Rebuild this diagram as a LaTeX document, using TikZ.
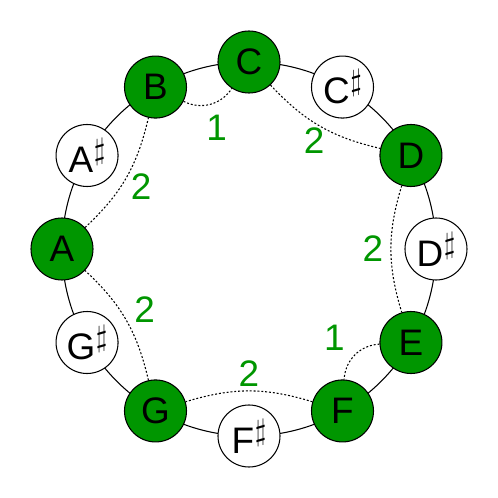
\documentclass[tikz,border=0pt]{standalone}
\usepackage{fontspec}
\setmainfont{Liberation Sans}
\usepackage{tikz}
\definecolor{keygreen}{RGB}{0,150,0}
\newcommand{\shp}{\kern0.3pt\raisebox{7.4pt}{\fontsize{16}{16}\selectfont$\sharp$}}

\begin{document}
\begin{tikzpicture}[
every node/.style={circle, draw=black, minimum size=1.24cm, inner sep=0, font=\fontsize{21}{23}\selectfont},
every path/.style={line width=0.6pt},
inkey/.style={fill=keygreen},
offkey/.style={fill=white},
interval/.style={dash pattern=on 1.1pt off 1.1pt},
steplabel/.style={draw=none, fill=none, rectangle, minimum size=0, text=keygreen}
]
\useasboundingbox (-4.98,-4.98) rectangle (4.98,4.98);
\draw (0,0) circle (3.74);
\node[inkey] (c) at (90:3.74) {C};
\node[offkey] (cs) at (60:3.74) {C\shp};
\node[inkey] (d) at (30:3.74) {D};
\node[offkey] (ds) at (0:3.74) {D\shp};
\node[inkey] (e) at (-30:3.74) {E};
\node[inkey] (f) at (-60:3.74) {F};
\node[offkey] (fs) at (-90:3.74) {F\shp};
\node[inkey] (g) at (-120:3.74) {G};
\node[offkey] (gs) at (-150:3.74) {G\shp};
\node[inkey] (a) at (180:3.74) {A};
\node[offkey] (as) at (150:3.74) {A\shp};
\node[inkey] (b) at (120:3.74) {B};
% interval labels
\node[steplabel] (cd) at (59:2.53) {2};
\node[steplabel] (de) at (0:2.48) {2};
\node[steplabel] (ef) at (-46:2.46) {1};
\node[steplabel] (fg) at (-90:2.5) {2};
\node[steplabel] (ga) at (-150:2.41) {2};
\node[steplabel] (ab) at (150:2.49) {2};
\node[steplabel] (bc) at (105:2.5) {1};
\draw[interval] (c) to[bend right=17] (d);
\draw[interval] (d) to[bend right=17] (e);
\draw[interval] (e) to[bend right=42] (f);
\draw[interval] (f) to[bend right=17] (g);
\draw[interval] (g) to[bend right=17] (a);
\draw[interval] (a) to[bend right=17] (b);
\draw[interval] (b) to[bend right=42] (c);
\end{tikzpicture}
\end{document}
